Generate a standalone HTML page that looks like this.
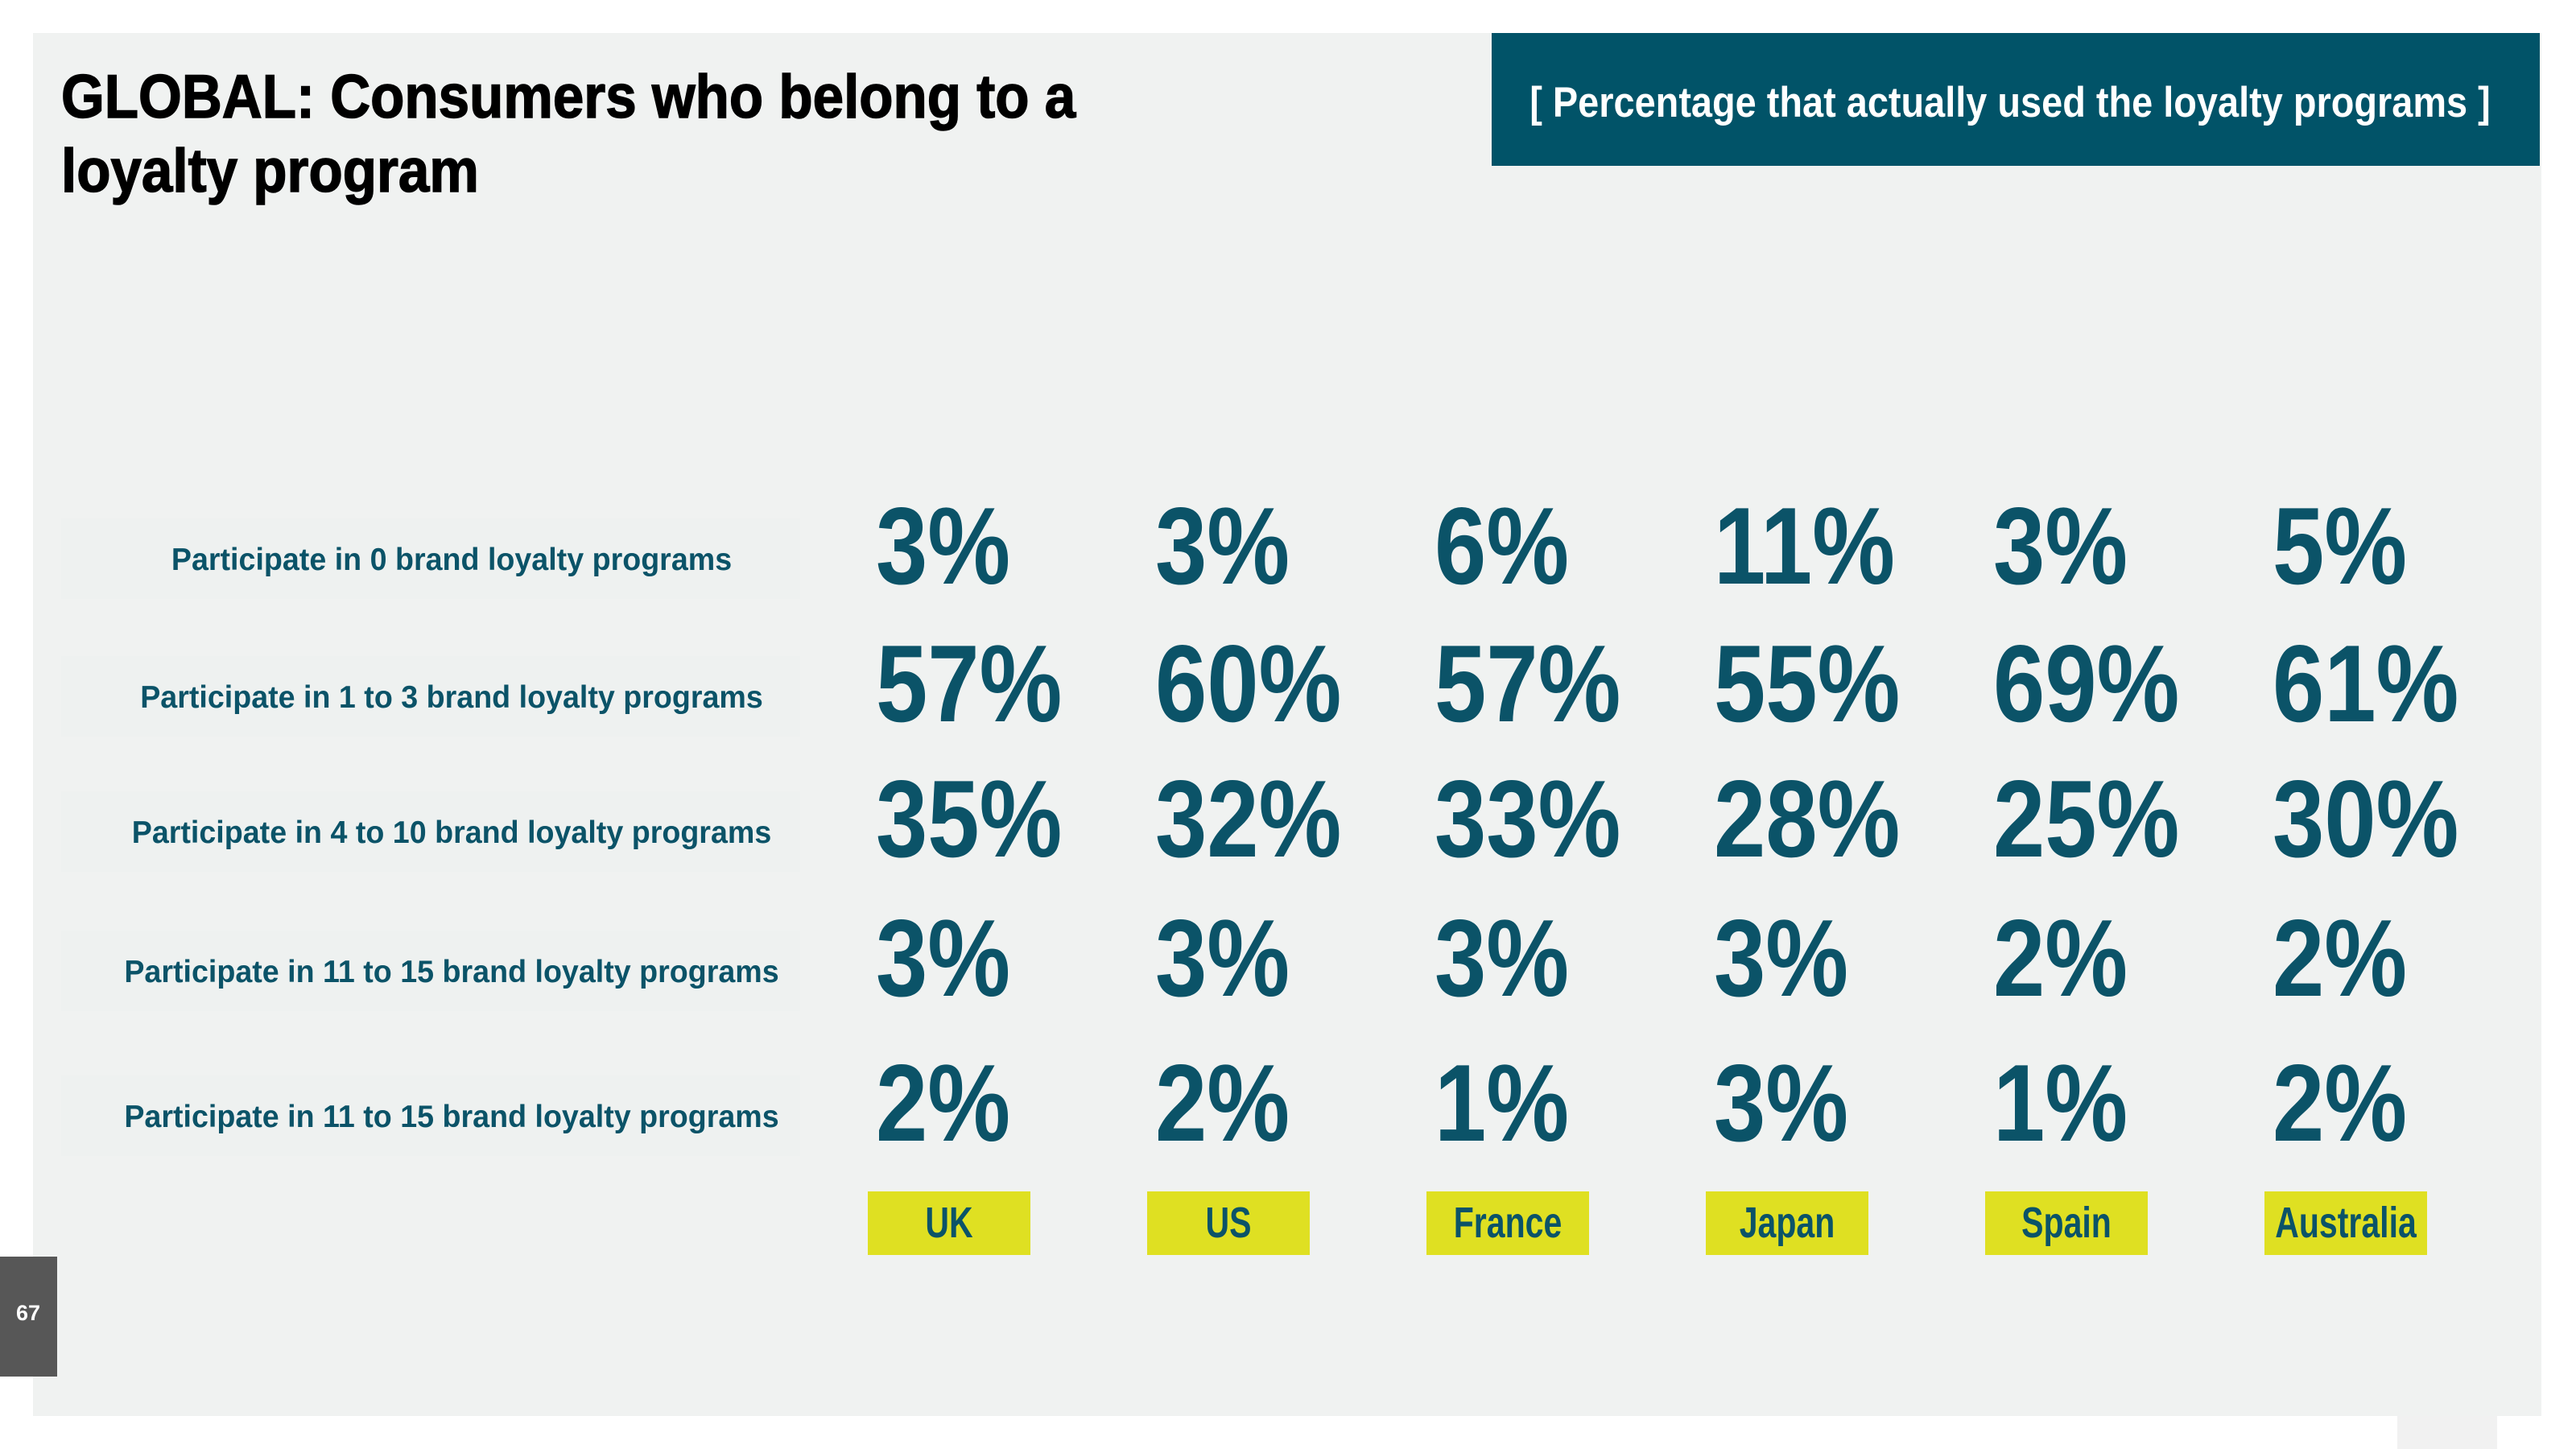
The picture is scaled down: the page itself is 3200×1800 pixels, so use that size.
<!DOCTYPE html>
<html><head><meta charset="utf-8"><style>
html,body{margin:0;padding:0;background:#fff;width:3200px;height:1800px;overflow:hidden}
svg{display:block}
text{font-family:"Liberation Sans",sans-serif;font-weight:bold}
</style></head><body>
<svg id="chart" width="3200" height="1800" viewBox="0 0 3200 1800" xmlns="http://www.w3.org/2000/svg">
<rect x="41" y="41" width="3116" height="1718" fill="#f0f2f1"/>
<rect x="2978" y="1759" width="124" height="41" fill="#f1f1f1"/>
<rect x="0" y="1561" width="71" height="149" fill="#575757"/>
<text x="35" y="1640" font-size="27" fill="#fff" text-anchor="middle">67</text>
<g transform="translate(76,146) scale(0.91,1)">
<text x="0" y="0" font-size="76" fill="#000" stroke="#000" stroke-width="1.5">GLOBAL: Consumers who belong to a</text>
<text x="0" y="92" font-size="76" fill="#000" stroke="#000" stroke-width="1.5">loyalty program</text>
</g>
<rect x="1853" y="41" width="1302" height="165" fill="#015368"/>
<g transform="translate(2497,145) scale(0.885,1)"><text x="0" y="0" font-size="53" fill="#fff" text-anchor="middle">[ Percentage that actually used the loyalty programs ]</text></g>
<g id="rows"></g>
<g id="cells"></g>
<g id="countriesG"></g>
</svg>
<script>
const countries = ["UK","US","France","Japan","Spain","Australia"];
const rowLabels = ["Participate in 0 brand loyalty programs","Participate in 1 to 3 brand loyalty programs","Participate in 4 to 10 brand loyalty programs","Participate in 11 to 15 brand loyalty programs","Participate in 11 to 15 brand loyalty programs"];
const row0 = [3,3,6,11,3,5];
const row1 = [57,60,57,55,69,61];
const row2 = [35,32,33,28,25,30];
const row3 = [3,3,3,3,2,2];
const row4 = [2,2,1,3,1,2];
const values = [row0,row1,row2,row3,row4];

const NS="http://www.w3.org/2000/svg";
const colX = i => 1088 + i*347;
const rowY = r => [694,865,1033,1206,1386][r];
const teal="#0b5368";
function mk(t,attrs,parent){const e=document.createElementNS(NS,t);for(const k in attrs)e.setAttribute(k,attrs[k]);parent.appendChild(e);return e;}
const rowsG=document.getElementById('rows'), cellsG=document.getElementById('cells'), cG=document.getElementById('countriesG');
rowLabels.forEach((lab,r)=>{
  const bg=mk('rect',{x:76,y:rowY(r)-50,width:918,height:100,fill:'#eef1f0'},rowsG);
  
  
  const g=mk('g',{transform:`translate(561,${rowY(r)+14}) scale(0.965,1)`},rowsG);
  const t=mk('text',{x:0,y:0,'font-size':39,fill:teal,'text-anchor':'middle'},g);
  t.textContent=lab;
  
  
  values[r].forEach((v,i)=>{
    const g2=mk('g',{transform:`translate(${colX(i)},${rowY(r)+31}) scale(0.85,1)`},cellsG);
    const tv=mk('text',{x:0,y:0,'font-size':136,fill:teal},g2);
    tv.textContent=v+'%';
    
    
  });
});
countries.forEach((c,i)=>{
  const x=colX(i)-10;
  const b=mk('rect',{x:x,y:1480,width:202,height:79,fill:'#dfe022'},cG);
  
  
  const g=mk('g',{transform:`translate(${x+101},1537) scale(0.76,1)`},cG);
  const t=mk('text',{x:0,y:0,'font-size':54,fill:teal,'text-anchor':'middle'},g);
  t.textContent=c;
  
  
});
</script>
</body></html>
